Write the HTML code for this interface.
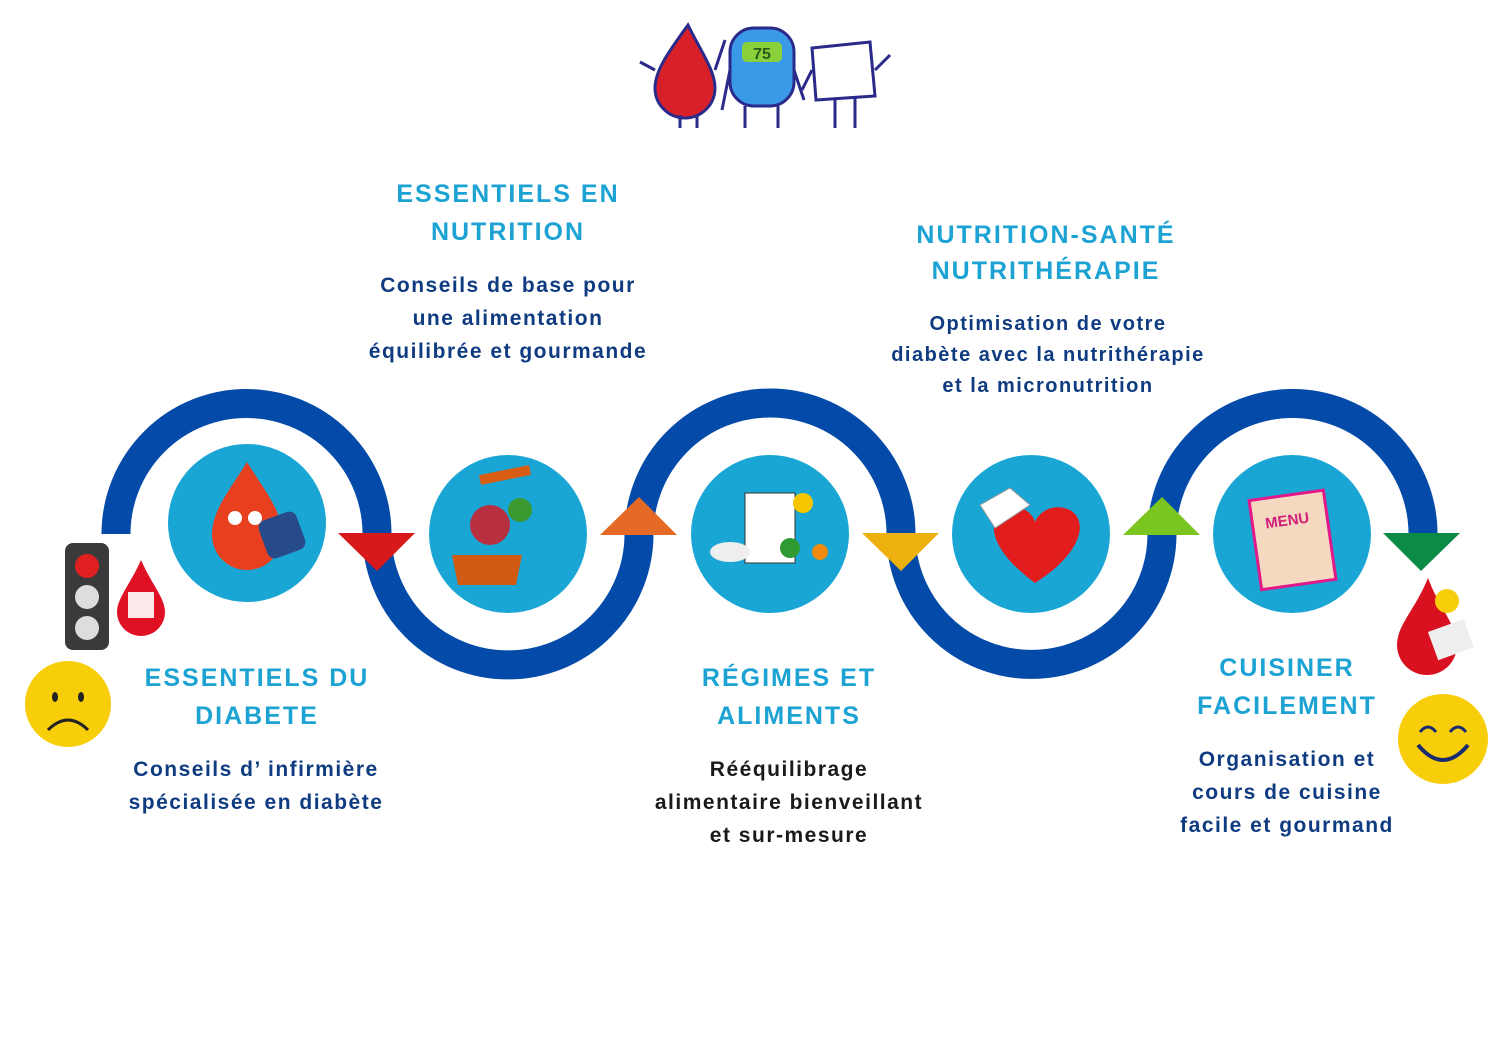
<!DOCTYPE html>
<html><head><meta charset="utf-8"><style>
body{margin:0;width:1500px;height:1060px;background:#fff;overflow:hidden;position:relative;font-family:"Liberation Sans",sans-serif;font-weight:bold}
.t{position:absolute;text-align:center;transform:translateX(-50%);white-space:nowrap}
.h{color:#1ca3d3;font-size:25px;letter-spacing:2px;line-height:38px}
.b{color:#0f3b80;font-size:21px;line-height:33px;letter-spacing:1.5px}
</style></head><body>
<svg width="1500" height="1060" style="position:absolute;left:0;top:0">
<g fill="none" stroke="#044aa8" stroke-width="29">
<path d="M116 534 A130 130 0 0 1 377 534 A130 130 0 0 0 639 534 A130 130 0 0 1 901 534 A130 130 0 0 0 1162 534 A130 130 0 0 1 1423 534"/>
</g>
<g fill="#19a6d4">
<circle cx="247" cy="523" r="79"/><circle cx="508" cy="534" r="79"/><circle cx="770" cy="534" r="79"/><circle cx="1031" cy="534" r="79"/><circle cx="1292" cy="534" r="79"/>
</g>
<polygon points="338,533 415,533 377,571" fill="#d8191c"/>
<polygon points="600,535 677,535 639,497" fill="#e46a25"/>
<polygon points="862,533 939,533 901,571" fill="#ecb00f"/>
<polygon points="1123,535 1200,535 1162,497" fill="#7ac520"/>
<polygon points="1383,533 1460,533 1421,571" fill="#0b8b45"/>
<!-- icons -->
<path d="M247 462 C230 490 212 510 212 535 A35 35 0 0 0 282 535 C282 510 264 490 247 462Z" fill="#e8401f"/>
<circle cx="235" cy="518" r="7" fill="#fff"/><circle cx="255" cy="518" r="7" fill="#fff"/>
<rect x="262" y="515" width="40" height="40" rx="8" fill="#274a8a" transform="rotate(-20 282 535)"/>
<path d="M480 480 L530 470" stroke="#d85c12" stroke-width="10"/>
<path d="M452 555 h70 l-6 30 h-58z" fill="#d05a12"/>
<circle cx="490" cy="525" r="20" fill="#b83040"/><circle cx="520" cy="510" r="12" fill="#3a9a30"/>
<rect x="745" y="493" width="50" height="70" fill="#fff" stroke="#333"/>
<circle cx="803" cy="503" r="10" fill="#f7c600"/><circle cx="790" cy="548" r="10" fill="#2f9a32"/><circle cx="820" cy="552" r="8" fill="#f08a10"/>
<ellipse cx="730" cy="552" rx="20" ry="10" fill="#eee"/>
<path d="M1035 583 C990 550 985 520 1005 510 C1020 503 1032 512 1035 522 C1040 510 1055 503 1070 510 C1090 522 1080 555 1035 583Z" fill="#e21d1d"/>
<path d="M980 505 L1010 488 L1030 505 L995 528Z" fill="#fff" stroke="#999"/>
<rect x="1255" y="495" width="75" height="90" fill="#f4d8c0" stroke="#e2188a" stroke-width="3" transform="rotate(-8 1292 540)"/>
<text x="1290" y="525" font-size="15" fill="#d0207a" text-anchor="middle" font-family="Liberation Sans" transform="rotate(-8 1292 540)">MENU</text>
<!-- left side -->
<rect x="65" y="543" width="44" height="107" rx="8" fill="#3a3a3a"/>
<circle cx="87" cy="566" r="12" fill="#e02020"/><circle cx="87" cy="597" r="12" fill="#ddd"/><circle cx="87" cy="628" r="12" fill="#ddd"/>
<path d="M141 560 C130 585 117 598 117 612 A24 24 0 0 0 165 612 C165 598 152 585 141 560Z" fill="#e01025"/>
<rect x="128" y="592" width="26" height="26" fill="#fff" opacity="0.9"/>
<circle cx="68" cy="704" r="43" fill="#f8cd0a"/>
<path d="M48 730 Q68 710 88 730" stroke="#222" stroke-width="3" fill="none"/>
<ellipse cx="55" cy="697" rx="3" ry="5" fill="#222"/><ellipse cx="81" cy="697" rx="3" ry="5" fill="#222"/>
<!-- right side -->
<path d="M1428 578 C1415 610 1397 625 1397 645 A30 30 0 0 0 1457 645 C1457 625 1440 610 1428 578Z" fill="#d81020"/>
<circle cx="1447" cy="601" r="12" fill="#f8cd0a"/>
<rect x="1432" y="625" width="38" height="30" fill="#eee" transform="rotate(-20 1450 640)"/>
<circle cx="1443" cy="739" r="45" fill="#f8cd0a"/>
<path d="M1418 745 Q1443 775 1468 745" stroke="#1a2a70" stroke-width="4" fill="none"/>
<path d="M1420 732 Q1428 722 1436 732 M1450 732 Q1458 722 1466 732" stroke="#1a2a70" stroke-width="3" fill="none"/>
<!-- top mascots -->
<path d="M688 25 C670 50 655 70 655 88 A30 30 0 0 0 715 88 C715 70 700 50 688 25Z" fill="#d8202a" stroke="#2a2a8a" stroke-width="3"/>
<rect x="730" y="28" width="64" height="78" rx="24" fill="#3a9ae8" stroke="#2a2a8a" stroke-width="3"/>
<rect x="742" y="42" width="40" height="20" rx="5" fill="#8ad03a"/>
<text x="762" y="59" font-size="16" fill="#2a5a1a" text-anchor="middle" font-family="Liberation Sans">75</text>
<path d="M812 48 L870 42 L875 96 L816 100Z" fill="#fff" stroke="#2a2a8a" stroke-width="3"/>
<g stroke="#2a2a8a" stroke-width="3" fill="none"><path d="M680 115v13M697 115v13M745 106v22M778 106v22M835 100v28M855 98v30M655 70l-15-8M715 70l10-30M730 70l-8 40M794 70l10 30M812 70l-10 20M875 70l15-15"/></g>
</svg>
<div class="t h" style="left:508px;top:175px">ESSENTIELS EN<br>NUTRITION</div>
<div class="t b" style="left:508px;top:269px">Conseils de base pour<br>une alimentation<br>équilibrée et gourmande</div>
<div class="t h" style="left:1046px;top:217px;line-height:36px">NUTRITION-SANTÉ<br>NUTRITHÉRAPIE</div>
<div class="t b" style="left:1048px;top:309px;font-size:20px;line-height:31px">Optimisation de votre<br>diabète avec la nutrithérapie<br>et la micronutrition</div>
<div class="t h" style="left:257px;top:659px">ESSENTIELS DU<br>DIABETE</div>
<div class="t b" style="left:256px;top:753px">Conseils d’ infirmière<br>spécialisée en diabète</div>
<div class="t h" style="left:789px;top:659px">RÉGIMES ET<br>ALIMENTS</div>
<div class="t b" style="left:789px;top:753px;color:#1a1a1a">Rééquilibrage<br>alimentaire bienveillant<br>et sur-mesure</div>
<div class="t h" style="left:1287px;top:649px">CUISINER<br>FACILEMENT</div>
<div class="t b" style="left:1287px;top:743px">Organisation et<br>cours de cuisine<br>facile et gourmand</div>
</body></html>
